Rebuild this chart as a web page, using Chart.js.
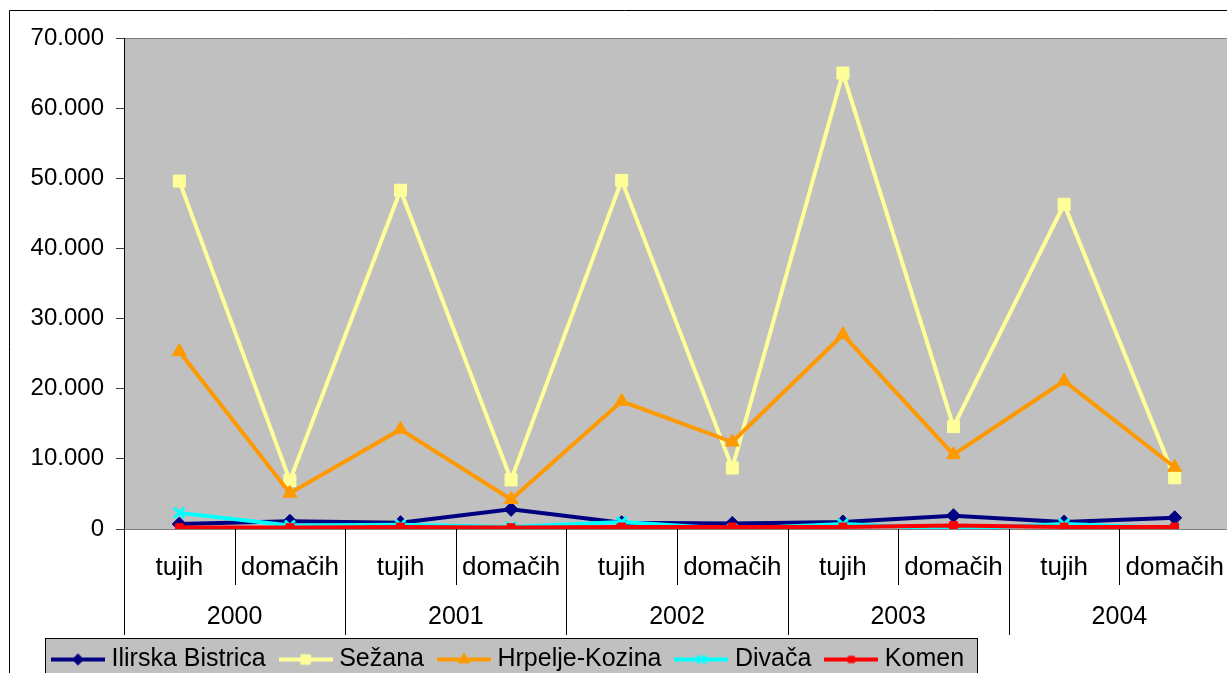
<!DOCTYPE html>
<html>
<head>
<meta charset="utf-8">
<script src="https://cdn.jsdelivr.net/npm/chart.js@4/dist/chart.umd.min.js"></script>
<style>
  html, body { margin: 0; padding: 0; background: #fff; overflow: hidden; }
  #wrap { position: absolute; left: 0; top: 0; width: 1240px; height: 682px; }
</style>
</head>
<body>
<div id="wrap"><canvas id="grafikon"></canvas></div>
<script>
// Podatki (prenočitve po občinah)
const leta = ['2000', '2001', '2002', '2003', '2004'];
const vrsta = ['tujih', 'domačih'];
const kategorije = [];
leta.forEach(() => vrsta.forEach(v => kategorije.push(v)));

const ilirskaBistrica = [700, 1100, 900, 2800, 900, 800, 1000, 1900, 1000, 1600];
const sezana = [49600, 6900, 48300, 7000, 49700, 8700, 65000, 14600, 46300, 7300];
const hrpeljeKozina = [25300, 5100, 14200, 4200, 18200, 12400, 27700, 10600, 21100, 8800];
const divaca = [2300, 500, 600, 300, 1000, 0, 700, 0, 700, 100];
const komen = [200, 200, 300, 200, 300, 300, 300, 500, 300, 300];

const Y_MAX = 70000;
const Y_KORAK = 10000;

const PISAVA = '"Liberation Sans", Arial, sans-serif';
const ZAMIK_LEGENDE = 38; // legenda je zamaknjena v desno

// oblika 1.000 s piko
function oblikuj(v) {
    return String(v).replace(/\B(?=(\d{3})+(?!\d))/g, '.');
}

// sličica za legendo: črta + oznaka
function ikonaLegende(barva, slog, polmer, debelina) {
    const c = document.createElement('canvas');
    c.width = 54; c.height = 24;
    const g = c.getContext('2d');
    g.strokeStyle = barva;
    g.lineWidth = 4;
    g.beginPath(); g.moveTo(0, 12); g.lineTo(54, 12); g.stroke();
    g.fillStyle = barva;
    g.lineWidth = debelina;
    Chart.helpers.drawPoint(g, { pointStyle: slog, radius: polmer, borderWidth: debelina, rotation: 0 }, 27, 12);
    return c;
}

const serije = [
    { label: 'Ilirska Bistrica', data: ilirskaBistrica, barva: '#000080', slog: 'rectRot', r: 7, bw: 1 },
    { label: 'Sežana', data: sezana, barva: '#FFFF99', slog: 'rect', r: 8.5, bw: 1 },
    { label: 'Hrpelje-Kozina', data: hrpeljeKozina, barva: '#FF9900', slog: 'triangle', r: 8, bw: 1 },
    { label: 'Divača', data: divaca, barva: '#00FFFF', slog: 'crossRot', r: 7, bw: 3 },
    { label: 'Komen', data: komen, barva: '#FF0000', slog: 'rect', r: 5.5, bw: 1 }
];

const datasets = serije.map((s, i) => ({
    label: s.label,
    data: s.data,
    borderColor: s.barva,
    backgroundColor: s.barva,
    borderWidth: 4,
    tension: 0,
    pointStyle: s.slog,
    pointRadius: s.r,
    pointBorderWidth: s.bw,
    pointBackgroundColor: s.barva,
    pointBorderColor: s.barva,
    order: serije.length - 1 - i, // zadnja serija na vrhu kot v Excelu
    ikona: ikonaLegende(s.barva, s.slog, s.r * 0.8, s.bw)
}));

// ozadje grafa, okvir legende, zunanji okvir, dvonivojska os X
const okrasje = {
    id: 'okrasje',
    afterLayout(chart) {
        chart.legend.left += ZAMIK_LEGENDE;
    },
    beforeDraw(chart) {
        const { ctx, chartArea: a } = chart;
        ctx.save();
        ctx.fillStyle = '#C0C0C0';
        ctx.fillRect(a.left, a.top, a.right - a.left, a.bottom - a.top);
        ctx.strokeStyle = '#808080';
        ctx.lineWidth = 1;
        ctx.beginPath();
        ctx.moveTo(a.left, a.top + 0.5); ctx.lineTo(a.right, a.top + 0.5);
        ctx.stroke();

        const hb = chart.legend.legendHitBoxes;
        if (hb && hb.length) {
            const prvi = hb[0], zadnji = hb[hb.length - 1];
            const l = prvi.left - 12, r = zadnji.left + zadnji.width + 13;
            const t = prvi.top - 9;
            ctx.fillStyle = '#C0C0C0';
            ctx.fillRect(l, t, r - l, 60);
            ctx.strokeStyle = '#000';
            ctx.strokeRect(Math.round(l) + 0.5, Math.round(t) + 0.5, Math.round(r - l), 60);
        }

        ctx.strokeStyle = '#000';
        ctx.beginPath();
        ctx.moveTo(9.5, chart.height); ctx.lineTo(9.5, 10.5); ctx.lineTo(chart.width, 10.5);
        ctx.stroke();
        ctx.restore();
    },
    afterDraw(chart) {
        const { ctx, chartArea: a } = chart;
        const x = chart.scales.x;
        const pol = (x.getPixelForValue(1) - x.getPixelForValue(0)) / 2;
        ctx.save();
        ctx.strokeStyle = '#000';
        ctx.lineWidth = 1;
        for (let i = 0; i <= kategorije.length; i++) {
            const px = Math.round(x.getPixelForValue(i) - pol) + 0.5;
            const dolga = i % vrsta.length === 0;
            ctx.beginPath();
            ctx.moveTo(px, a.bottom);
            ctx.lineTo(px, a.bottom + (dolga ? 106 : 56));
            ctx.stroke();
        }
        ctx.fillStyle = '#000';
        ctx.font = '25px ' + PISAVA;
        ctx.textAlign = 'center';
        ctx.textBaseline = 'middle';
        leta.forEach((leto, j) => {
            const i0 = j * vrsta.length;
            const sredina = (x.getPixelForValue(i0) + x.getPixelForValue(i0 + vrsta.length - 1)) / 2;
            ctx.fillText(leto, sredina, a.bottom + 88);
        });
        ctx.restore();
    }
};

const ctx = document.getElementById('grafikon').getContext('2d');

new Chart(ctx, {
    type: 'line',
    data: { labels: kategorije, datasets: datasets },
    options: {
        responsive: true,
        maintainAspectRatio: false,
        animation: false,
        layout: { padding: { left: 0, top: 38, right: 6, bottom: 0 } },
        scales: {
            x: {
                offset: true,
                grid: { display: false },
                border: { display: true, color: '#808080', width: 1 },
                ticks: { color: '#000', font: { family: PISAVA, size: 26 }, padding: 15, maxRotation: 0, autoSkip: false },
                afterFit: s => { s.height = 99; }
            },
            y: {
                min: 0,
                max: Y_MAX,
                ticks: {
                    stepSize: Y_KORAK,
                    color: '#000',
                    padding: 12,
                    font: { family: PISAVA, size: 24 },
                    callback: v => oblikuj(v)
                },
                grid: { drawOnChartArea: false, drawTicks: true, tickLength: 8, color: '#404040' },
                border: { display: true, color: '#000', width: 1 },
                afterFit: s => { s.width = 124; }
            }
        },
        plugins: {
            legend: {
                position: 'bottom',
                align: 'start',
                labels: {
                    color: '#000',
                    font: { family: PISAVA, size: 25 },
                    usePointStyle: true,
                    pointStyleWidth: 42,
                    padding: 19,
                    generateLabels: chart => chart.data.datasets.map((d, i) => ({
                        text: d.label,
                        pointStyle: d.ikona,
                        fillStyle: d.borderColor,
                        strokeStyle: d.borderColor,
                        lineWidth: 0,
                        hidden: false,
                        datasetIndex: i,
                        fontColor: '#000'
                    }))
                }
            },
            tooltip: { enabled: false }
        }
    },
    plugins: [okrasje]
});
</script>
</body>
</html>
